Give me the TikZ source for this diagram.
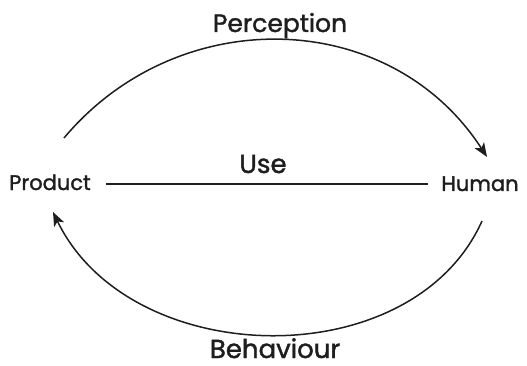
\documentclass[tikz,border=0pt]{standalone}
\usepackage{fontspec}
\setmainfont{Poppins}[RawFeature={embolden=1.5}]
\usetikzlibrary{arrows.meta}
\definecolor{ink}{HTML}{1E1E1E}
\begin{document}
\begin{tikzpicture}[x=1pt,y=-1pt,
  lbl/.style={inner sep=0pt,text=ink,anchor=base,text depth=0pt},
  small/.style={lbl,font=\fontsize{21}{21}\selectfont},
  big/.style={lbl,font=\fontsize{26}{26}\selectfont},
  arc/.style={draw=ink,line width=1.5pt,-{Stealth[length=14pt,width=11pt,inset=3.5pt]}},
  flat/.style={draw=ink,line width=1.4pt}]
\useasboundingbox (0,0) rectangle (527,366);
\node[small] (prod) at (50,190) {Product};
\node[small] (hum) at (480,191) {Human};
\node[big] (use) at (263,173) {Use};
\node[big,font=\fontsize{25}{25}\selectfont] (perc) at (280,32) {Perception};
\node[big] (beh) at (275,358) {Behaviour};
\coordinate (t1) at (64,138);
\coordinate (t2) at (487,157);
\coordinate (b1) at (482,221);
\coordinate (b2) at (53,212);
\path (prod.base east) ++(15,-6) coordinate (u1);
\path (hum.base west) ++(-13,-7) coordinate (u2);
\draw[flat] (u1) -- (u2);
\draw[arc] (t1) .. controls (178,2) and (390,7) .. (t2);
\draw[arc] (b1) .. controls (412,377) and (130,371) .. (b2);
\end{tikzpicture}
\end{document}
